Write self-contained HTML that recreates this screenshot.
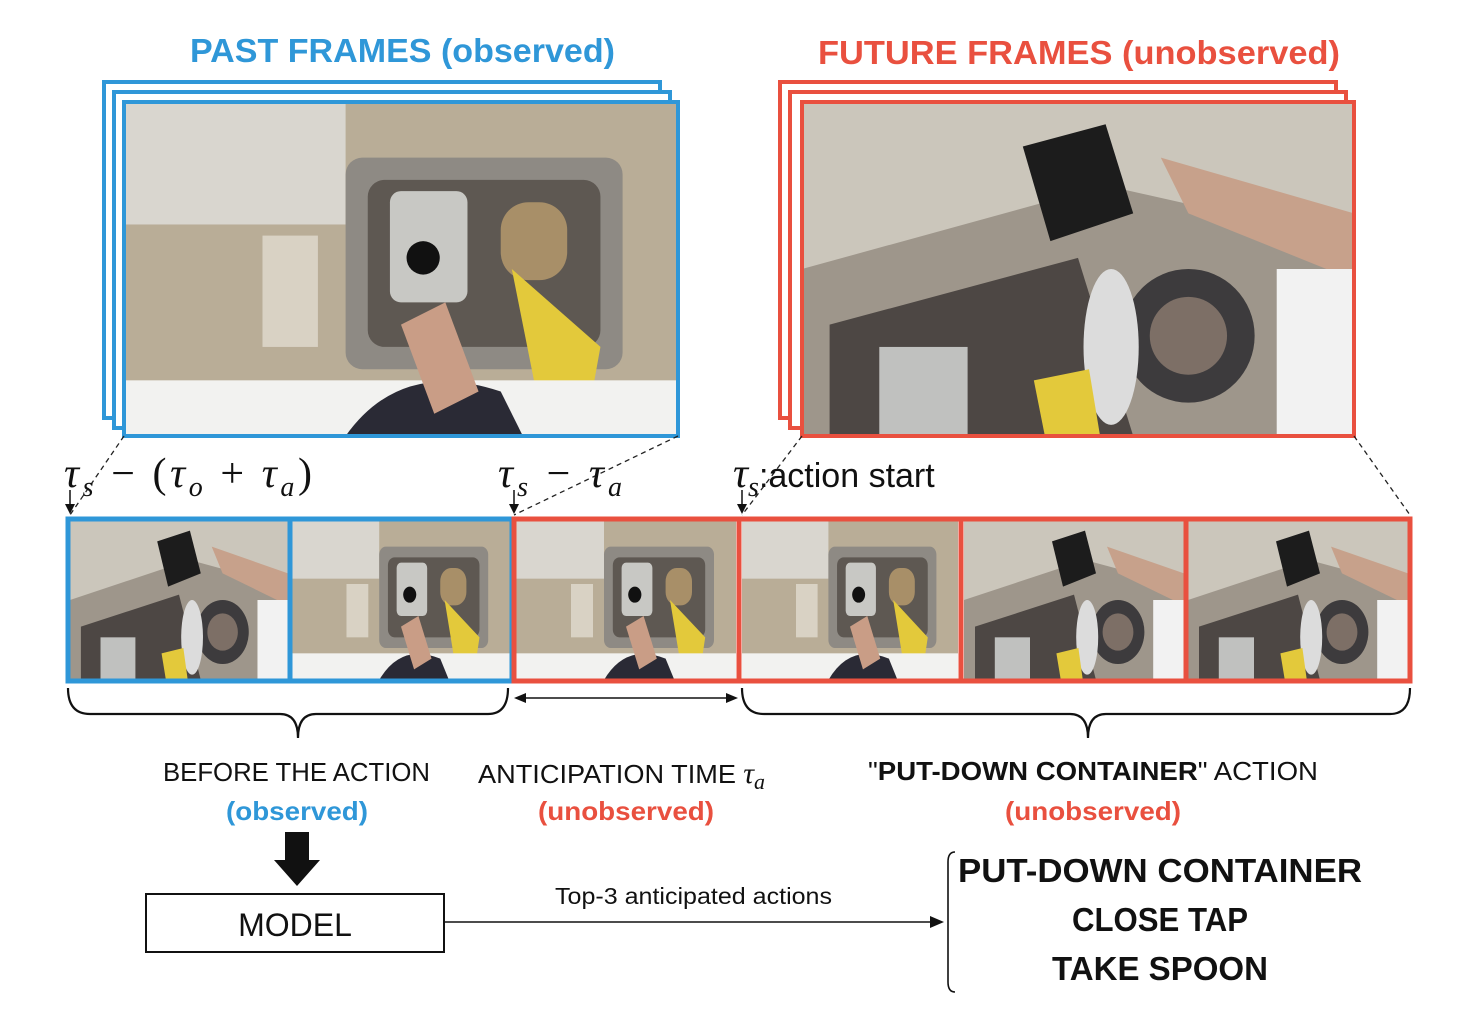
<!DOCTYPE html>
<html><head><meta charset="utf-8"><style>
html,body{margin:0;padding:0;background:#fff;}
svg{display:block}
text{font-family:"Liberation Sans",sans-serif}
.m{font-family:"Liberation Serif","DejaVu Serif",serif;font-style:italic}
</style></head><body>
<svg width="1476" height="1014" viewBox="0 0 1476 1014" xmlns="http://www.w3.org/2000/svg">
<defs>
<symbol id="pa" viewBox="0 0 100 60" preserveAspectRatio="none">
<rect width="100" height="60" fill="#b9ad97"/>
<rect x="0" y="0" width="40" height="22" fill="#d9d6cf"/>
<rect x="40" y="10" width="50" height="38" rx="3" fill="#8e8a84"/>
<rect x="44" y="14" width="42" height="30" rx="3" fill="#5e5852"/>
<rect x="48" y="16" width="14" height="20" rx="2" fill="#c8c8c4"/>
<rect x="68" y="18" width="12" height="14" rx="5" fill="#a88f68"/>
<path d="M70 30 L86 44 L84 55 L74 50 Z" fill="#e3c93b"/>
<rect x="25" y="24" width="10" height="20" fill="#d9d2c4"/>
<rect x="0" y="50" width="100" height="10" fill="#f2f2f0"/>
<path d="M40 60 Q50 46 68 52 L72 60 Z" fill="#2a2a35"/>
<path d="M50 40 L58 36 L64 52 L56 56 Z" fill="#c99d86"/>
<circle cx="54" cy="28" r="3" fill="#111"/>
</symbol>
<symbol id="pb" viewBox="0 0 100 60" preserveAspectRatio="none">
<rect width="100" height="60" fill="#cbc6bb"/>
<path d="M0 30 L55 15 L100 25 L100 60 L0 60 Z" fill="#9e968b"/>
<path d="M5 40 L50 28 L60 60 L5 60 Z" fill="#4d4744"/>
<rect x="14" y="44" width="16" height="16" fill="#c0c1bf"/>
<ellipse cx="70" cy="42" rx="12" ry="12" fill="#3d3b3d"/>
<ellipse cx="70" cy="42" rx="7" ry="7" fill="#7d6f66"/>
<ellipse cx="56" cy="44" rx="5" ry="14" fill="#dcdcdc"/>
<path d="M40 8 L55 4 L60 20 L45 25 Z" fill="#1c1c1c"/>
<path d="M65 10 L100 20 L100 32 L70 20 Z" fill="#c7a18b"/>
<path d="M42 50 L52 48 L54 60 L44 60 Z" fill="#e3c93b"/>
<rect x="86" y="30" width="14" height="30" fill="#f2f2f2"/>
</symbol>
</defs>

<text x="190" y="62" textLength="425" lengthAdjust="spacingAndGlyphs" font-size="33" font-weight="bold" fill="#2f97d8">PAST FRAMES (observed)</text>
<text x="818" y="64" textLength="522" lengthAdjust="spacingAndGlyphs" font-size="33" font-weight="bold" fill="#e9503f">FUTURE FRAMES (unobserved)</text>

<rect x="104" y="82" width="556" height="336" fill="#fff" stroke="#2f97d8" stroke-width="4"/>
<rect x="114" y="92" width="556" height="336" fill="#fff" stroke="#2f97d8" stroke-width="4"/>
<use href="#pa" x="124" y="102" width="554" height="334"/>
<rect x="124" y="102" width="554" height="334" fill="none" stroke="#2f97d8" stroke-width="4"/>
<rect x="780" y="82" width="556" height="336" fill="#fff" stroke="#e9503f" stroke-width="4"/>
<rect x="790" y="92" width="556" height="336" fill="#fff" stroke="#e9503f" stroke-width="4"/>
<use href="#pb" x="802" y="102" width="552" height="334"/>
<rect x="802" y="102" width="552" height="334" fill="none" stroke="#e9503f" stroke-width="4"/>

<g stroke="#222" stroke-width="1.3" stroke-dasharray="5,4" fill="none">
<line x1="124" y1="436" x2="70" y2="515"/>
<line x1="678" y1="436" x2="514" y2="515"/>
<line x1="802" y1="436" x2="742" y2="515"/>
<line x1="1354" y1="436" x2="1410" y2="515"/>
</g>

<text x="64" y="487" font-size="42" class="m" fill="#111" textLength="248" lengthAdjust="spacing">τ<tspan font-size="28" dy="9">s</tspan><tspan dy="-9" font-style="normal"> − (</tspan>τ<tspan font-size="28" dy="9">o</tspan><tspan dy="-9" font-style="normal"> + </tspan>τ<tspan font-size="28" dy="9">a</tspan><tspan dy="-9" font-style="normal">)</tspan></text>
<text x="498" y="487" font-size="42" class="m" fill="#111" textLength="124" lengthAdjust="spacing">τ<tspan font-size="28" dy="9">s</tspan><tspan dy="-9" font-style="normal"> − </tspan>τ<tspan font-size="28" dy="9">a</tspan></text>
<text x="733" y="487" font-size="42" class="m" fill="#111">τ<tspan font-size="28" dy="9">s</tspan><tspan dy="-9" font-style="normal" font-family="Liberation Sans" font-size="34">:action start</tspan></text>
<g stroke="#111" stroke-width="1.5"><line x1="70" y1="490" x2="70" y2="510"/><line x1="514" y1="490" x2="514" y2="510"/><line x1="742" y1="490" x2="742" y2="510"/></g>
<g fill="#111"><path d="M65 504 L75 504 L70 514Z"/><path d="M509 504 L519 504 L514 514Z"/><path d="M737 504 L747 504 L742 514Z"/></g>

<use href="#pb" x="70" y="520" width="218" height="160"/>
<use href="#pa" x="292" y="520" width="218" height="160"/>
<use href="#pa" x="516" y="520" width="220" height="160"/>
<use href="#pa" x="742" y="520" width="216" height="160"/>
<use href="#pb" x="964" y="520" width="220" height="160"/>
<use href="#pb" x="1188" y="520" width="220" height="160"/>
<g fill="none" stroke-width="5">
<rect x="68" y="519" width="444" height="162" stroke="#2f97d8"/>
<line x1="290" y1="519" x2="290" y2="681" stroke="#2f97d8"/>
<rect x="514" y="519" width="896" height="162" stroke="#e9503f"/>
<line x1="739" y1="519" x2="739" y2="681" stroke="#e9503f"/>
<line x1="961" y1="519" x2="961" y2="681" stroke="#e9503f"/>
<line x1="1186" y1="519" x2="1186" y2="681" stroke="#e9503f"/>
</g>

<g fill="none" stroke="#111" stroke-width="2.2">
<path d="M68 688 Q68 714 90 714 L280 714 Q298 714 298 738 Q298 714 316 714 L488 714 Q508 714 508 688"/>
<path d="M742 688 Q742 714 764 714 L1070 714 Q1088 714 1088 738 Q1088 714 1106 714 L1390 714 Q1410 714 1410 688"/>
<line x1="522" y1="698" x2="730" y2="698" stroke-width="1.6"/>
</g>
<path d="M514 698 L526 693 L526 703Z M738 698 L726 693 L726 703Z" fill="#111"/>

<text x="163" y="781" textLength="267" lengthAdjust="spacingAndGlyphs" font-size="26" fill="#111">BEFORE THE ACTION</text>
<text x="226" y="820" textLength="142" lengthAdjust="spacingAndGlyphs" font-size="26" font-weight="bold" fill="#2f97d8">(observed)</text>
<text x="478" y="783" font-size="26" fill="#111"><tspan textLength="258" lengthAdjust="spacingAndGlyphs">ANTICIPATION TIME</tspan> <tspan class="m" font-size="30">τ</tspan><tspan class="m" font-size="22" dy="6">a</tspan></text>
<text x="538" y="820" textLength="176" lengthAdjust="spacingAndGlyphs" font-size="26" font-weight="bold" fill="#e9503f">(unobserved)</text>
<text x="868" y="780" textLength="450" lengthAdjust="spacingAndGlyphs" font-size="26" fill="#111">"<tspan font-weight="bold">PUT-DOWN CONTAINER</tspan>" ACTION</text>
<text x="1005" y="820" textLength="176" lengthAdjust="spacingAndGlyphs" font-size="26" font-weight="bold" fill="#e9503f">(unobserved)</text>

<path d="M285 832 L309 832 L309 860 L320 860 L297 886 L274 860 L285 860Z" fill="#111"/>

<rect x="146" y="894" width="298" height="58" fill="#fff" stroke="#111" stroke-width="2"/>
<text x="295" y="936" text-anchor="middle" font-size="32" fill="#111">MODEL</text>

<line x1="444" y1="922" x2="934" y2="922" stroke="#111" stroke-width="1.6"/>
<path d="M944 922 L930 916 L930 928Z" fill="#111"/>
<text x="555" y="904" textLength="277" lengthAdjust="spacingAndGlyphs" font-size="23" fill="#111">Top-3 anticipated actions</text>

<path d="M955 852 Q948 852 948 862 L948 982 Q948 992 955 992" fill="none" stroke="#111" stroke-width="1.6"/>
<g font-size="33" font-weight="bold" fill="#111">
<text x="958" y="882" textLength="404" lengthAdjust="spacingAndGlyphs">PUT-DOWN CONTAINER</text>
<text x="1072" y="931" textLength="176" lengthAdjust="spacingAndGlyphs">CLOSE TAP</text>
<text x="1052" y="980" textLength="216" lengthAdjust="spacingAndGlyphs">TAKE SPOON</text>
</g>
</svg>
</body></html>
